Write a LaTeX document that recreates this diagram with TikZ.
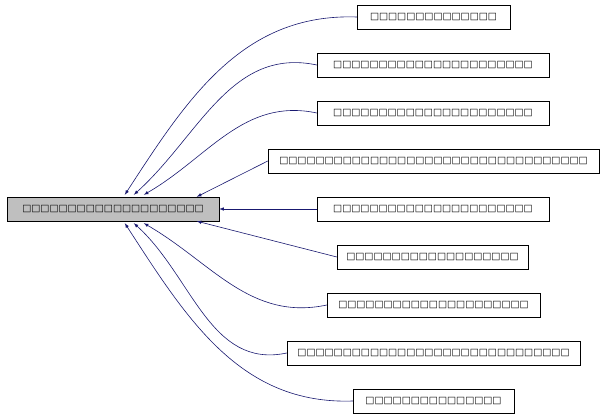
\documentclass[tikz,border=0pt]{standalone}
\usepackage{fontspec}
\newfontfamily\boxfont{DejaVu Sans}
\definecolor{edgeblue}{HTML}{191970}
\newcommand{\tofu}[1]{\foreach \i in {1,...,#1}{\char"25A1}}
\tikzset{
  cls/.style={draw=black, fill=white, font=\boxfont\fontsize{9.6}{11}\selectfont,
    inner sep=0pt, minimum height=24pt, anchor=center},
  dep/.style={<-, >=latex, draw=edgeblue, color=edgeblue, line width=0.6pt}
}
\begin{document}
\begin{tikzpicture}[x=1pt, y=-1pt]
\useasboundingbox (0,0) rectangle (605,419);

% base class
\node[cls, fill=black!25, minimum width=212pt] (base) at (113,209) {\tofu{20}};

% derived classes
\node[cls, minimum width=153pt] (c1) at (433.5,17)  {\tofu{14}};
\node[cls, minimum width=232pt] (c2) at (433,65)   {\tofu{22}};
\node[cls, minimum width=232pt] (c3) at (433,113)  {\tofu{22}};
\node[cls, minimum width=331pt] (c4) at (433.5,161) {\tofu{34}};
\node[cls, minimum width=232pt] (c5) at (433,209)  {\tofu{22}};
\node[cls, minimum width=191pt] (c6) at (432.5,257) {\tofu{19}};
\node[cls, minimum width=213pt] (c7) at (433.5,305) {\tofu{21}};
\node[cls, minimum width=293pt] (c8) at (433.5,353) {\tofu{30}};
\node[cls, minimum width=161pt] (c9) at (433.5,401) {\tofu{15}};

% inheritance edges
\draw[dep] (base.north west)++(118,-2) to[out=57, in=178] (c1.west);
\draw[dep] (base.north west)++(127,-2) to[out=42, in=168] (c2.west);
\draw[dep] (base.north west)++(137,-2) to[out=30, in=168] (c3.west);
\draw[dep] (base.north west)++(190,0) -- (c4.west);
\draw[dep] (base.east) -- (c5.west);
\draw[dep] (base.south west)++(190,0) -- (c6.west);
\draw[dep] (base.south west)++(137,2) to[out=-30, in=192] (c7.west);
\draw[dep] (base.south west)++(127,2) to[out=-42, in=192] (c8.west);
\draw[dep] (base.south west)++(118,2) to[out=-57, in=182] (c9.west);
\end{tikzpicture}
\end{document}
